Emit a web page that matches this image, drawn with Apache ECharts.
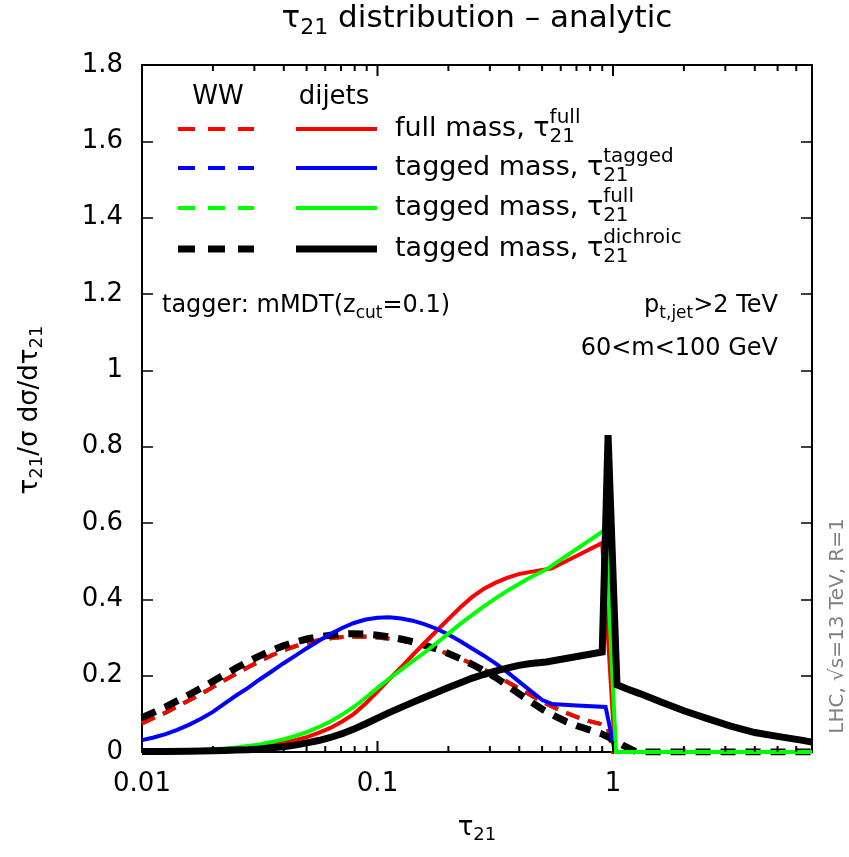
<!DOCTYPE html>
<html><head><meta charset="utf-8">
<script src="https://cdn.jsdelivr.net/npm/echarts@6/dist/echarts.min.js"></script>
<style>html,body{margin:0;padding:0;background:#fff}#c{width:849px;height:857px}</style>
</head><body><div id="c"></div>
<script>
// ---------------- data ----------------
const xMin = 0.01, xMax = 7;
const xMajor = [0.01, 0.1, 1];
const xMinor = [0.02,0.03,0.04,0.05,0.06,0.07,0.08,0.09,0.2,0.3,0.4,0.5,0.6,0.7,0.8,0.9,2,3,4,5,6];
const xTickLabels = ['0.01', '0.1', '1'];
const yTicks = [0, 0.2, 0.4, 0.6, 0.8, 1, 1.2, 1.4, 1.6, 1.8];

// WW (dashed)
const wwFullX = [0.01,0.0112,0.0126,0.0141,0.0158,0.0178,0.02,0.0224,0.0251,0.0282,0.0316,0.0355,0.0398,0.0447,0.0501,0.0562,0.0631,0.0708,0.0794,0.0891,0.1,0.112,0.126,0.141,0.158,0.178,0.2,0.224,0.251,0.282,0.316,0.355,0.398,0.447,0.501,0.562,0.631,0.708,0.794,0.891,0.95,1.0,7];
const wwFullY = [0.075,0.089,0.103,0.119,0.135,0.152,0.170,0.188,0.205,0.222,0.238,0.253,0.266,0.277,0.286,0.293,0.298,0.301,0.302,0.302,0.300,0.297,0.292,0.286,0.278,0.268,0.257,0.245,0.232,0.217,0.201,0.184,0.167,0.149,0.132,0.117,0.103,0.091,0.081,0.073,0.066,0,0];
const wwTaggedY = wwFullY;      // coincides with the full-mass WW curve
const wwTagFullY = wwFullY;     // coincides with the full-mass WW curve
const wwDichX = [0.01,0.0112,0.0126,0.0141,0.0158,0.0178,0.02,0.0224,0.0251,0.0282,0.0316,0.0355,0.0398,0.0447,0.0501,0.0562,0.0631,0.0708,0.0794,0.0891,0.1,0.112,0.126,0.141,0.158,0.178,0.2,0.224,0.251,0.282,0.316,0.355,0.398,0.447,0.501,0.562,0.631,0.708,0.794,0.891,1.0,1.1,1.2,1.26,7];
const wwDichY = [0.090,0.104,0.118,0.134,0.150,0.167,0.185,0.203,0.220,0.237,0.252,0.266,0.278,0.288,0.296,0.302,0.306,0.309,0.310,0.309,0.306,0.302,0.296,0.289,0.280,0.270,0.258,0.245,0.230,0.214,0.196,0.175,0.153,0.132,0.112,0.095,0.080,0.068,0.058,0.048,0.033,0.018,0.006,0,0];

// dijets (solid)
const djFullX = [0.01,0.0112,0.0126,0.0141,0.0158,0.0178,0.02,0.0224,0.0251,0.0282,0.0316,0.0355,0.0398,0.0447,0.0501,0.0562,0.0631,0.0708,0.0794,0.0891,0.1,0.112,0.126,0.141,0.158,0.178,0.2,0.224,0.251,0.282,0.316,0.355,0.398,0.447,0.501,0.55,0.9,1.02,7];
const djFullY = [0.001,0.0015,0.002,0.0025,0.003,0.004,0.005,0.007,0.009,0.012,0.015,0.019,0.024,0.031,0.039,0.050,0.063,0.080,0.100,0.127,0.158,0.190,0.222,0.254,0.285,0.317,0.348,0.378,0.405,0.427,0.443,0.456,0.466,0.472,0.477,0.481,0.548,0,0];
const djTaggedX = [0.01,0.0112,0.0126,0.0141,0.0158,0.0178,0.02,0.0224,0.0251,0.0282,0.0316,0.0355,0.0398,0.0447,0.0501,0.0562,0.0631,0.0708,0.0794,0.0891,0.1,0.112,0.126,0.141,0.158,0.178,0.2,0.224,0.251,0.282,0.316,0.355,0.398,0.447,0.501,0.55,0.7,0.93,1.02,7];
const djTaggedY = [0.031,0.038,0.047,0.058,0.071,0.087,0.105,0.127,0.148,0.168,0.190,0.211,0.232,0.252,0.272,0.291,0.309,0.325,0.338,0.347,0.352,0.353,0.350,0.344,0.335,0.323,0.308,0.291,0.272,0.253,0.233,0.210,0.185,0.160,0.136,0.126,0.122,0.118,0,0];
const djTagFullX = [0.01,0.0112,0.0126,0.0141,0.0158,0.0178,0.02,0.0224,0.0251,0.0282,0.0316,0.0355,0.0398,0.0447,0.0501,0.0562,0.0631,0.0708,0.0794,0.0891,0.1,0.112,0.126,0.141,0.158,0.178,0.2,0.224,0.251,0.282,0.316,0.355,0.398,0.447,0.52,0.93,1.03,7];
const djTagFullY = [0.001,0.0015,0.002,0.003,0.004,0.005,0.007,0.009,0.012,0.016,0.020,0.026,0.033,0.042,0.052,0.065,0.080,0.098,0.118,0.142,0.168,0.192,0.215,0.238,0.260,0.285,0.310,0.335,0.358,0.381,0.402,0.422,0.440,0.458,0.478,0.583,0,0];
const djDichX = [0.01,0.0126,0.0158,0.02,0.0224,0.0251,0.0282,0.0316,0.0355,0.0398,0.0447,0.0501,0.0562,0.0631,0.0708,0.0794,0.0891,0.1,0.112,0.126,0.141,0.158,0.178,0.2,0.224,0.251,0.282,0.316,0.355,0.398,0.447,0.52,0.9,0.953,1.04,1.15,1.3,1.6,2.0,2.5,3.16,4.0,5.0,6.3,7.0];
const djDichY = [0.001,0.0015,0.002,0.003,0.004,0.005,0.006,0.008,0.011,0.014,0.018,0.024,0.030,0.038,0.048,0.060,0.074,0.089,0.103,0.117,0.130,0.143,0.156,0.169,0.181,0.193,0.203,0.212,0.220,0.227,0.232,0.236,0.262,0.830,0.176,0.165,0.153,0.131,0.108,0.088,0.068,0.051,0.041,0.031,0.026];

// ---------------- helpers ----------------
const FF = '"DejaVu Sans"';
const mctx = document.createElement('canvas').getContext('2d');
function tw(s, size){ mctx.font = size + 'px ' + FF; return mctx.measureText(s).width; }
function richParts(x, y, parts, size, align, color, ratio){
  const ss = Math.round(size*(ratio || 0.7));
  let w = 0; const items = [];
  for (const p of parts){
    if (p.t !== undefined){ items.push({dx:w, dy:0, s:p.t, size}); w += tw(p.t, size); }
    else {
      let pw = 0;
      if (p.sup){ items.push({dx:w, dy:-0.42*size, s:p.sup, size:ss}); pw = Math.max(pw, tw(p.sup, ss)); }
      if (p.sub){ items.push({dx:w, dy:0.30*size, s:p.sub, size:ss}); pw = Math.max(pw, tw(p.sub, ss)); }
      w += pw;
    }
  }
  let x0 = x;
  if (align === 'right') x0 = x - w; else if (align === 'center') x0 = x - w/2;
  return items.map(it => ({
    type:'text', x: x0 + it.dx, y: y + it.dy, silent:true,
    style:{text: it.s, fontSize: it.size, fontFamily: FF, fill: color || '#000', align:'left', verticalAlign:'middle'}
  }));
}

function mk(name, xs, ys, color, width, dash, z){
  return {type:'line', name, xAxisIndex:0, yAxisIndex:0, data: xs.map((x,i)=>[x, ys[i]]), symbol:'none', showSymbol:false,
    lineStyle:{color, width, type: dash || 'solid', cap:'butt', join:'miter'}, z, silent:true, clip:true};
}
// x tick marks drawn as thin rectangular symbols through the log axis (bottom: y = min, top: y = max)
function tickSeries(vals, len, atTop){
  const yv = atTop ? yTicks[yTicks.length-1] : yTicks[0];
  return {type:'scatter', xAxisIndex:0, yAxisIndex:0, silent:true, z:20, clip:false,
    data: vals.map(v => [v, yv]), symbol:'rect', symbolSize:[2, len], symbolOffset:[0, atTop ? len/2 : -len/2],
    itemStyle:{color:'#000', opacity:1}};
}

// ---------------- chart ----------------
const chart = echarts.init(document.getElementById('c'), null, {renderer:'canvas'});
const axisLineStyle = {color:'#000', width:2};
const tickStyle = {color:'#000', width:1.5};

function xAx(pos, labels){
  return {type:'log', logBase:10, min:xMin, max:xMax, position:pos,
    axisLine:{show:true, onZero:false, lineStyle:axisLineStyle}, axisTick:{show:false},
    axisLabel: labels ? {show:true, fontSize:26, fontFamily:FF, color:'#000', margin:19,
      formatter: v => { const i = xMajor.findIndex(m => Math.abs(Math.log10(m) - Math.log10(v)) < 1e-6); return i >= 0 ? xTickLabels[i] : ''; }} : {show:false},
    splitLine:{show:false}, minorTick:{show:false}};
}
function yAx(pos, labels){
  return {type:'value', min:yTicks[0], max:yTicks[yTicks.length-1], interval:0.2, position:pos,
    axisLine:{show:true, onZero:false, lineStyle:axisLineStyle},
    axisTick:{show:true, inside:true, length:11, lineStyle:tickStyle},
    axisLabel: labels ? {show:true, fontSize:26, fontFamily:FF, color:'#000', margin:19} : {show:false},
    splitLine:{show:false}};
}

const graphics = [];
graphics.push(...richParts(477, 19, [{t:'τ'},{sub:'21'},{t:' distribution – analytic'}], 31, 'center'));
graphics.push(...richParts(477, 828, [{t:'τ'},{sub:'21'}], 26, 'center'));
graphics.push({type:'group', x:30, y:410, rotation:Math.PI/2,
  children: richParts(0, 0, [{t:'τ'},{sub:'21'},{t:'/σ dσ/dτ'},{sub:'21'}], 26, 'center')});
graphics.push({type:'text', x:838, y:626, rotation:Math.PI/2, silent:true,
  style:{text:'LHC, √s=13 TeV, R=1', fontSize:20, fontFamily:FF, fill:'#808080', align:'center', verticalAlign:'middle'}});
graphics.push(...richParts(162, 306, [{t:'tagger: mMDT(z'},{sub:'cut'},{t:'=0.1)'}], 24, 'left'));
graphics.push(...richParts(778, 306, [{t:'p'},{sub:'t,jet'},{t:'>2 TeV'}], 24, 'right'));
graphics.push(...richParts(778, 349, [{t:'60<m<100 GeV'}], 24, 'right'));
graphics.push(...richParts(218, 97, [{t:'WW'}], 26, 'center'));
graphics.push(...richParts(334, 97, [{t:'dijets'}], 26, 'center'));
const legRows = [
  {y:129, c:'#ff0000', w:4, sup:'full', lab:'full mass, τ'},
  {y:168, c:'#0000ff', w:4, sup:'tagged', lab:'tagged mass, τ'},
  {y:208, c:'#00ff00', w:4, sup:'full', lab:'tagged mass, τ'},
  {y:249, c:'#000000', w:7, sup:'dichroic', lab:'tagged mass, τ'}
];
for (const r of legRows){
  graphics.push({type:'line', silent:true, shape:{x1:178, y1:r.y, x2:254, y2:r.y}, style:{stroke:r.c, lineWidth:r.w, lineDash:[17,13], lineCap:'butt'}});
  graphics.push({type:'line', silent:true, shape:{x1:296, y1:r.y, x2:377, y2:r.y}, style:{stroke:r.c, lineWidth:r.w, lineCap:'butt'}});
  graphics.push(...richParts(395, r.y, [{t:r.lab},{sub:'21', sup:r.sup}], 27, 'left', '#000', 0.74));
}

chart.setOption({
  animation:false,
  backgroundColor:'#fff',
  grid:{left:142, right:37, top:65, bottom:105, containLabel:false},
  xAxis:[xAx('bottom', true), xAx('top', false)],
  yAxis:[yAx('left', true), yAx('right', false)],
  series:[
    mk('WW tagged mass, τ21 tagged', wwFullX, wwTaggedY, '#0000ff', 4, [14,9], 2),
    mk('WW tagged mass, τ21 full', wwFullX, wwTagFullY, '#00ff00', 4, [14,9], 2),
    mk('WW full mass, τ21 full', wwFullX, wwFullY, '#ff0000', 4, [14,9], 3),
    mk('WW tagged mass, τ21 dichroic', wwDichX, wwDichY, '#000000', 7, [15,10], 4),
    mk('dijets full mass, τ21 full', djFullX, djFullY, '#ff0000', 4, null, 5),
    mk('dijets tagged mass, τ21 tagged', djTaggedX, djTaggedY, '#0000ff', 4, null, 5),
    mk('dijets tagged mass, τ21 full', djTagFullX, djTagFullY, '#00ff00', 4, null, 6),
    mk('dijets tagged mass, τ21 dichroic', djDichX, djDichY, '#000000', 7, null, 7),
    tickSeries(xMajor, 11, false), tickSeries(xMinor, 6, false),
    tickSeries(xMajor, 11, true), tickSeries(xMinor, 6, true)
  ],
  graphic: graphics
});
</script></body></html>
